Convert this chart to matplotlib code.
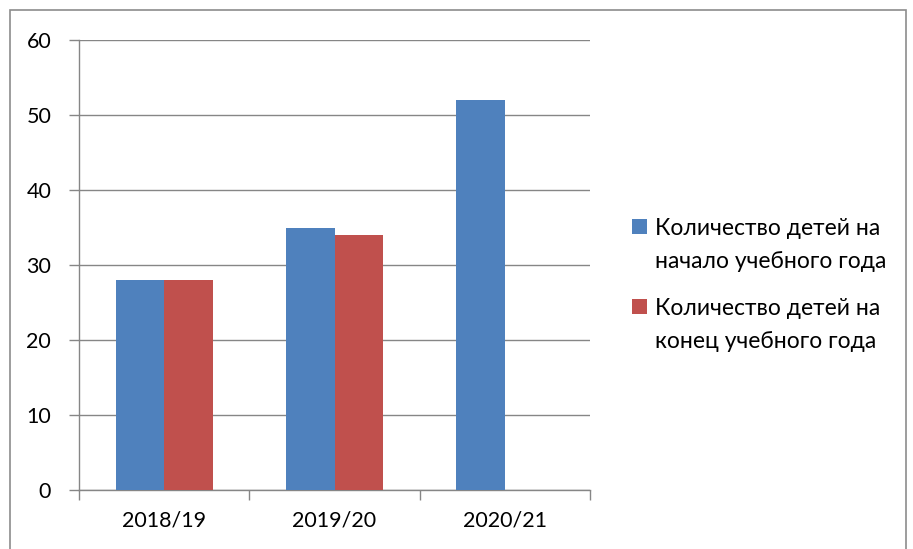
import matplotlib.pyplot as plt
import numpy as np
from matplotlib.patches import Rectangle

# Data
years = ["2018/19", "2019/20", "2020/21"]
start_counts = [28, 35, 52]
end_counts = [28, 34, np.nan]
labels = [["Количество детей на", "начало учебного года"],
          ["Количество детей на", "конец учебного года"]]
colors = ["#4F81BD", "#C0504D"]

plt.rcParams["font.family"] = ["Lato", "DejaVu Sans"]

W, H = 913, 549
fig = plt.figure(figsize=(W / 100, H / 100), dpi=100)
ax = fig.add_axes([79 / W, 1 - 490 / H, (590 - 79) / W, (490 - 40) / H])

x = np.arange(len(years))
bw = 0.285
ax.bar(x - bw / 2, start_counts, bw, color=colors[0], zorder=3)
ax.bar(x + bw / 2, end_counts, bw, color=colors[1], zorder=3)

grey = "#868686"
ax.set_xlim(-0.5, 2.5)
ax.set_ylim(0, 60)
ax.set_yticks(range(0, 61, 10))
ax.yaxis.grid(True, color=grey, linewidth=1, zorder=0)
ax.set_axisbelow(True)
ax.set_xticks(x)
ax.set_xticklabels(years)
ax.set_xticks([-0.5, 0.5, 1.5, 2.5], minor=True)
ax.tick_params(axis="x", which="major", length=0, pad=15, labelsize=15.5)
ax.tick_params(axis="x", which="minor", length=7, color=grey, width=1)
ax.tick_params(axis="y", length=7, color=grey, width=1, labelsize=15.5, pad=13)
for side in ["top", "right"]:
    ax.spines[side].set_visible(False)
for side in ["left", "bottom"]:
    ax.spines[side].set_color(grey)
    ax.spines[side].set_linewidth(1)

# legend, drawn by hand so the marker sits on the first line
for i, (lines, c) in enumerate(zip(labels, colors)):
    base = 235 + i * 80
    fig.patches.append(Rectangle((632 / W, 1 - (base - 1) / H), 15 / W, 15 / H,
                                 transform=fig.transFigure, facecolor=c,
                                 edgecolor="none"))
    for j, line in enumerate(lines):
        fig.text(655 / W, 1 - (base + 33 * j) / H, line, fontsize=16.5,
                 va="baseline", ha="left")

# chart frame
fig.patches.append(Rectangle((10 / W, -0.05), (906 - 10) / W, 1.05 - 10 / H,
                             transform=fig.transFigure, facecolor="none",
                             edgecolor="#8C8C8C", linewidth=1.2))

fig.savefig("out.png", dpi=100)
